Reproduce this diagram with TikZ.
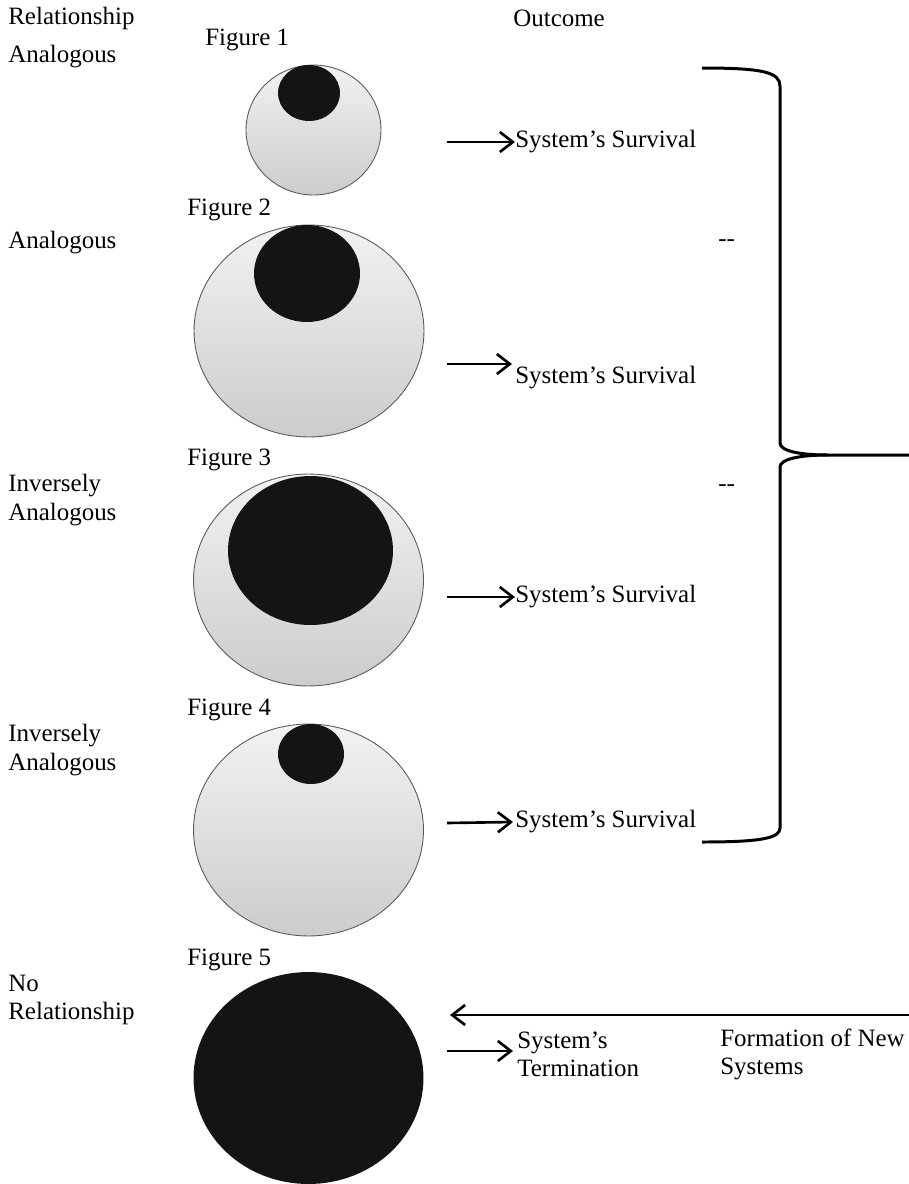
\documentclass[tikz,border=0pt]{standalone}
\usepackage{fontspec}
\setmainfont{Liberation Serif}
\usetikzlibrary{shapes.geometric,arrows.meta,positioning}

\begin{document}
\begin{tikzpicture}[x=0.02cm, y=-0.02cm,
  lbl/.style={anchor=west, inner sep=0pt, align=left, font=\fontsize{14.2}{16}\selectfont},
  ring/.style={ellipse, draw=black!65, line width=0.5pt, top color=black!5, bottom color=black!20, inner sep=0pt, minimum width=4.6cm, minimum height=4.24cm},
  core/.style={ellipse, fill=black!92, inner sep=0pt},
  flow/.style={-{Straight Barb[length=2.6mm,width=4mm,line width=1.5pt]}, line width=1.5pt},
  brace/.style={line width=1.7pt}
]
\useasboundingbox (0,0) rectangle (909,1184);

% column heads
\node[lbl] (relhead) at (8,18) {Relationship};
\node[lbl] (outhead) at (513,18) {Outcome};

% left column
\node[lbl] (rel1) at (8,57) {Analogous};
\node[lbl] (rel2) at (8,243) {Analogous};
\node[lbl] (rel3) at (8,500) {Inversely\\Analogous};
\node[lbl] (rel4) at (8,750) {Inversely\\Analogous};
\node[lbl] (rel5) at (8,1000) {No\\Relationship};

% figures
\node[lbl] (fig1) at (205,40) {Figure 1};
\node[ring, minimum width=2.7cm, minimum height=2.6cm] (ring1) at (313.5,130) {};
\node[core, minimum width=1.24cm, minimum height=1.12cm] (core1) at (309,93) {};

\node[lbl] (fig2) at (187,210) {Figure 2};
\node[ring] (ring2) at (309,331) {};
\node[core, minimum width=2.12cm, minimum height=1.94cm] (core2) at (307,273.5) {};

\node[lbl] (fig3) at (187,460) {Figure 3};
\node[ring] (ring3) at (308.5,580) {};
\node[core, minimum width=3.3cm, minimum height=2.98cm] (core3) at (310.5,550.5) {};

\node[lbl] (fig4) at (187,710) {Figure 4};
\node[ring] (ring4) at (308.5,830) {};
\node[core, minimum width=1.32cm, minimum height=1.2cm] (core4) at (311,754) {};

\node[lbl] (fig5) at (187,960) {Figure 5};
\node[core, minimum width=4.6cm, minimum height=4.24cm] (core5) at (308.5,1078) {};

% outcomes
\node[lbl] (out1) at (515,142) {System’s Survival};
\node[lbl] (out2) at (515,378) {System’s Survival};
\node[lbl] (out3) at (515,597) {System’s Survival};
\node[lbl] (out4) at (515,822) {System’s Survival};
\node[lbl] (out5) at (517,1054) {System’s\\Termination};
\node[lbl] (newsys) at (720,1054) {Formation of New\\Systems};
\node[lbl] (gap1) at (718,243) {-{}-};
\node[lbl] (gap2) at (718,488) {-{}-};

\coordinate (a1) at (447,142);
\coordinate (a2) at (447,364);
\coordinate (h2) at (512,364);
\coordinate (a3) at (447,597);
\coordinate (a4) at (447,823);
\coordinate (a5) at (447,1051);
\coordinate (h5) at (513,1051);
\coordinate (back) at (909,1015);
\coordinate (backtip) at (450,1015);

\draw[flow] (a1) -- (out1);
\draw[flow] (a2) -- (h2);
\draw[flow] (a3) -- (out3);
\draw[flow] (a4) -- (h5 |- out4.west);
\draw[flow] (a5) -- (h5);
\draw[flow] (back) -- (backtip);

% brace round figures 1-4
\coordinate (btop) at (702,68);
\coordinate (bbot) at (702,842);
\coordinate (btip) at (828,455);
\coordinate (bend) at (909,455);
\draw[brace] (btop) .. controls (762,68) and (780,72) .. (780,86) -- (780,443)
  .. controls (780,451) and (800,455) .. (btip) -- (bend);
\draw[brace] (btip) .. controls (800,455) and (780,459) .. (780,467) -- (780,828)
  .. controls (780,838) and (762,842) .. (bbot);
\end{tikzpicture}
\end{document}
